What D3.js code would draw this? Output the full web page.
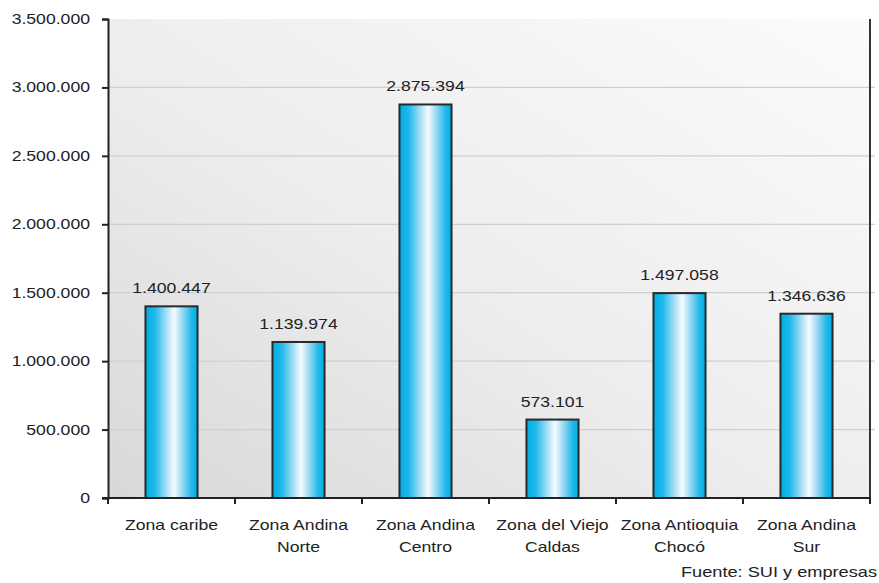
<!DOCTYPE html>
<html>
<head>
<meta charset="utf-8">
<script src="https://cdn.jsdelivr.net/npm/d3@7"></script>
<style>
  html, body { margin: 0; padding: 0; background: #fff; }
  svg { display: block; font-family: "Liberation Sans", Arial, sans-serif; }
</style>
</head>
<body>
<svg id="chart" width="879" height="583"></svg>
<script>
// Zones and their totals
const zones = [
  ["Zona caribe"],
  ["Zona Andina", "Norte"],
  ["Zona Andina", "Centro"],
  ["Zona del Viejo", "Caldas"],
  ["Zona Antioquia", "Chocó"],
  ["Zona Andina", "Sur"]
];
const values = [1400447, 1139974, 2875394, 573101, 1497058, 1346636];
const valueLabels = ["1.400.447", "1.139.974", "2.875.394", "573.101", "1.497.058", "1.346.636"];
const yTicks = [0, 500000, 1000000, 1500000, 2000000, 2500000, 3000000, 3500000];
const sourceNote = "Fuente: SUI y empresas";

const svg = d3.select("#chart");
const margin = { left: 108, right: 9, top: 19, bottom: 85 };
const W = 879, H = 583;
const x0 = margin.left, x1 = W - margin.right, y0 = H - margin.bottom, y1 = margin.top;
const FS = 14;      // label font size
const WIDE = 1.26;  // horizontal stretch of the lettering

const x = d3.scaleBand().domain(d3.range(values.length)).range([x0, x1]);
const y = d3.scaleLinear().domain([0, 3500000]).range([y0, y1]);

// widen a text element (and its tspans) around its own anchor point
function widen(sel, s) {
  sel.each(function() {
    const t = d3.select(this);
    t.attr("x", +t.attr("x") / s).attr("transform", `scale(${s},1)`);
    t.selectAll("tspan").each(function() {
      const ts = d3.select(this);
      if (ts.attr("x") !== null) ts.attr("x", +ts.attr("x") / s);
    });
  });
}

const defs = svg.append("defs");
const bg = defs.append("linearGradient").attr("id", "bg")
  .attr("x1", "0%").attr("y1", "100%").attr("x2", "100%").attr("y2", "0%");
bg.append("stop").attr("offset", "0%").attr("stop-color", "#d8d8da");
bg.append("stop").attr("offset", "45%").attr("stop-color", "#ededee");
bg.append("stop").attr("offset", "100%").attr("stop-color", "#fbfbfb");

const bar = defs.append("linearGradient").attr("id", "bar")
  .attr("x1", "0%").attr("y1", "0%").attr("x2", "100%").attr("y2", "0%");
bar.append("stop").attr("offset", "0%").attr("stop-color", "#00aee6");
bar.append("stop").attr("offset", "18%").attr("stop-color", "#1fb9ea");
bar.append("stop").attr("offset", "40%").attr("stop-color", "#a6def5");
bar.append("stop").attr("offset", "55%").attr("stop-color", "#f4fbff");
bar.append("stop").attr("offset", "70%").attr("stop-color", "#9fdaf4");
bar.append("stop").attr("offset", "88%").attr("stop-color", "#23baea");
bar.append("stop").attr("offset", "100%").attr("stop-color", "#00aee6");

// plot background
svg.append("rect").attr("x", x0).attr("y", y1).attr("width", x1 - x0).attr("height", y0 - y1)
  .attr("fill", "url(#bg)");

// gridlines
svg.append("g").selectAll("line").data(yTicks.filter(d => d > 0 && d < 3500000)).join("line")
  .attr("x1", x0).attr("x2", x1 + 5)
  .attr("y1", d => y(d)).attr("y2", d => y(d))
  .attr("stroke", "#cfcfd2").attr("stroke-width", 1.2);

// bars
const bw = x.bandwidth() * 0.41;
svg.append("g").selectAll("rect").data(values).join("rect")
  .attr("x", (d, i) => x(i) + (x.bandwidth() - bw) / 2)
  .attr("y", d => y(d))
  .attr("width", bw)
  .attr("height", d => y0 - y(d))
  .attr("fill", "url(#bar)")
  .attr("stroke", "#2a2a2a").attr("stroke-width", 2);

// value labels
const vl = svg.append("g").selectAll("text").data(values).join("text")
  .attr("x", (d, i) => x(i) + x.bandwidth() / 2)
  .attr("y", d => y(d) - 13)
  .attr("text-anchor", "middle")
  .attr("font-size", FS).attr("fill", "#222")
  .text((d, i) => valueLabels[i]);
vl.each(function() {
  const t = d3.select(this);
  const cx = +t.attr("x"), cy = +t.attr("y");
  t.attr("x", 0).attr("y", 0).attr("transform", `translate(${cx},${cy}) scale(${WIDE},1)`);
});

// left axis
const yAxis = svg.append("g").attr("transform", `translate(${x0},0)`)
  .call(d3.axisLeft(y).tickValues(yTicks).tickSize(6).tickPadding(12)
    .tickFormat(d => d3.format(",")(d).replace(/,/g, ".")));
yAxis.select(".domain").attr("stroke", "#222").attr("stroke-width", 2);
yAxis.selectAll(".tick line").attr("stroke", "#222").attr("stroke-width", 2);
yAxis.selectAll("text").attr("font-size", FS).attr("fill", "#222")
  .attr("font-family", "'Liberation Sans', Arial, sans-serif");
widen(yAxis.selectAll("text"), WIDE);

// right frame line
svg.append("line").attr("x1", x1).attr("x2", x1).attr("y1", y1).attr("y2", y0 + 6)
  .attr("stroke", "#333").attr("stroke-width", 2);

// bottom axis
const xAxis = svg.append("g").attr("transform", `translate(0,${y0})`);
xAxis.append("line").attr("x1", x0 - 6).attr("x2", x1).attr("y1", 0).attr("y2", 0)
  .attr("stroke", "#222").attr("stroke-width", 2);
xAxis.selectAll("line.tk").data(d3.range(values.length + 1)).join("line").attr("class", "tk")
  .attr("x1", i => i < values.length ? x(i) : x1).attr("x2", i => i < values.length ? x(i) : x1)
  .attr("y1", 0).attr("y2", 6)
  .attr("stroke", "#222").attr("stroke-width", 2);

const catLabels = xAxis.selectAll("text").data(zones).join("text")
  .attr("x", (d, i) => x(i) + x.bandwidth() / 2)
  .attr("y", 32)
  .attr("text-anchor", "middle")
  .attr("font-size", FS).attr("fill", "#222");
catLabels.selectAll("tspan").data(d => d).join("tspan")
  .attr("x", function() { return this.parentNode.getAttribute("x"); })
  .attr("dy", (d, j) => j === 0 ? 0 : 22)
  .text(d => d);
widen(catLabels, WIDE);

// source note
const note = svg.append("text").attr("x", 877).attr("y", 577).attr("text-anchor", "end")
  .attr("font-size", FS).attr("fill", "#222").text(sourceNote);
widen(note, 1.3);
</script>
</body>
</html>
